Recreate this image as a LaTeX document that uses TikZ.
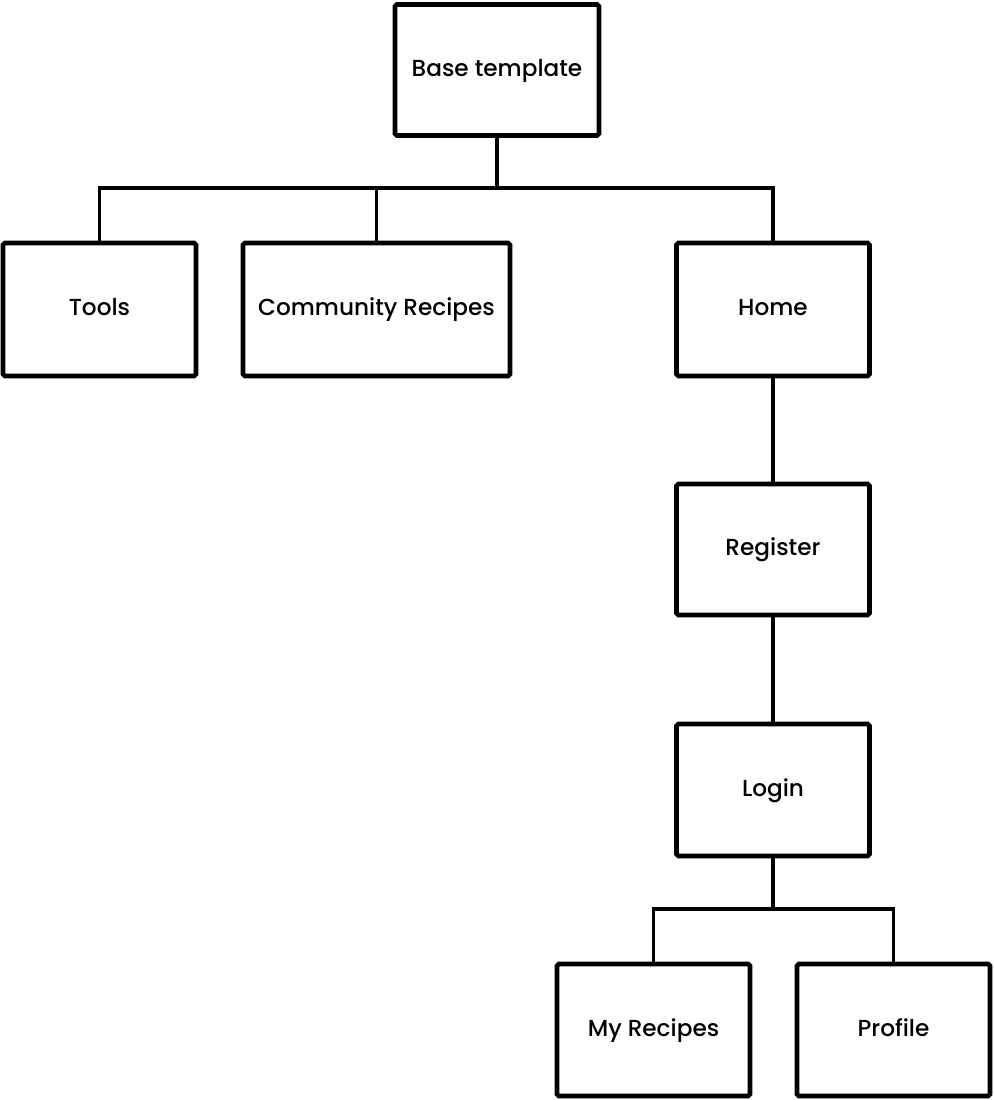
\documentclass[tikz,border=0pt]{standalone}
\usepackage{fontspec}
\setmainfont{Poppins}[UprightFont={* Medium}]
\usetikzlibrary{calc}

\tikzset{
  page/.style={draw, line width=2.6pt, rounded corners=1pt, fill=white,
    minimum width=3.86cm, minimum height=2.66cm, inner sep=0pt,
    text height=9.5pt, text depth=2.5pt,
    font=\fontsize{13.2pt}{15pt}\selectfont},
  link/.style={line width=2pt}
}

\begin{document}
\begin{tikzpicture}[x=0.02cm, y=-0.02cm]
	%%%%% START %%%%%
	\useasboundingbox (0, 0) rectangle (994, 1100);
	
	\node[page, minimum width=4.08cm, minimum height=2.62cm] (base) at (497, 70) {Base template};
	
	\node[page] (tools) at (99.5, 309.5) {Tools};
	\node[page, minimum width=5.34cm] (community) at (376.5, 309.5) {Community Recipes};
	\node[page] (home) at (773, 309.5) {Home};
	
	\node[page, minimum height=2.62cm] (register) at (773, 549.5) {Register};
	\node[page, minimum height=2.64cm] (login) at (773, 790) {Login};
	
	\node[page, minimum height=2.64cm] (myrecipes) at (653.5, 1030) {My Recipes};
	\node[page, minimum height=2.64cm] (profile) at (893.5, 1030) {Profile};
	
	% branches
	\coordinate (topbar) at (497, 188);
	\coordinate (lowbar) at (773, 909);
	
	\draw[link] (base.south) -- (topbar);
	\draw[link] (tools.north) |- (topbar) -| (home.north);
	\draw[link] (community.north) -- (community.north |- topbar);
	
	\draw[link] (home.south) -- (register.north);
	\draw[link] (register.south) -- (login.north);
	
	\draw[link] (login.south) -- (lowbar);
	\draw[link] (myrecipes.north) |- (lowbar) -| (profile.north);
	
	%%%%% END %%%%%
\end{tikzpicture}
\end{document}
